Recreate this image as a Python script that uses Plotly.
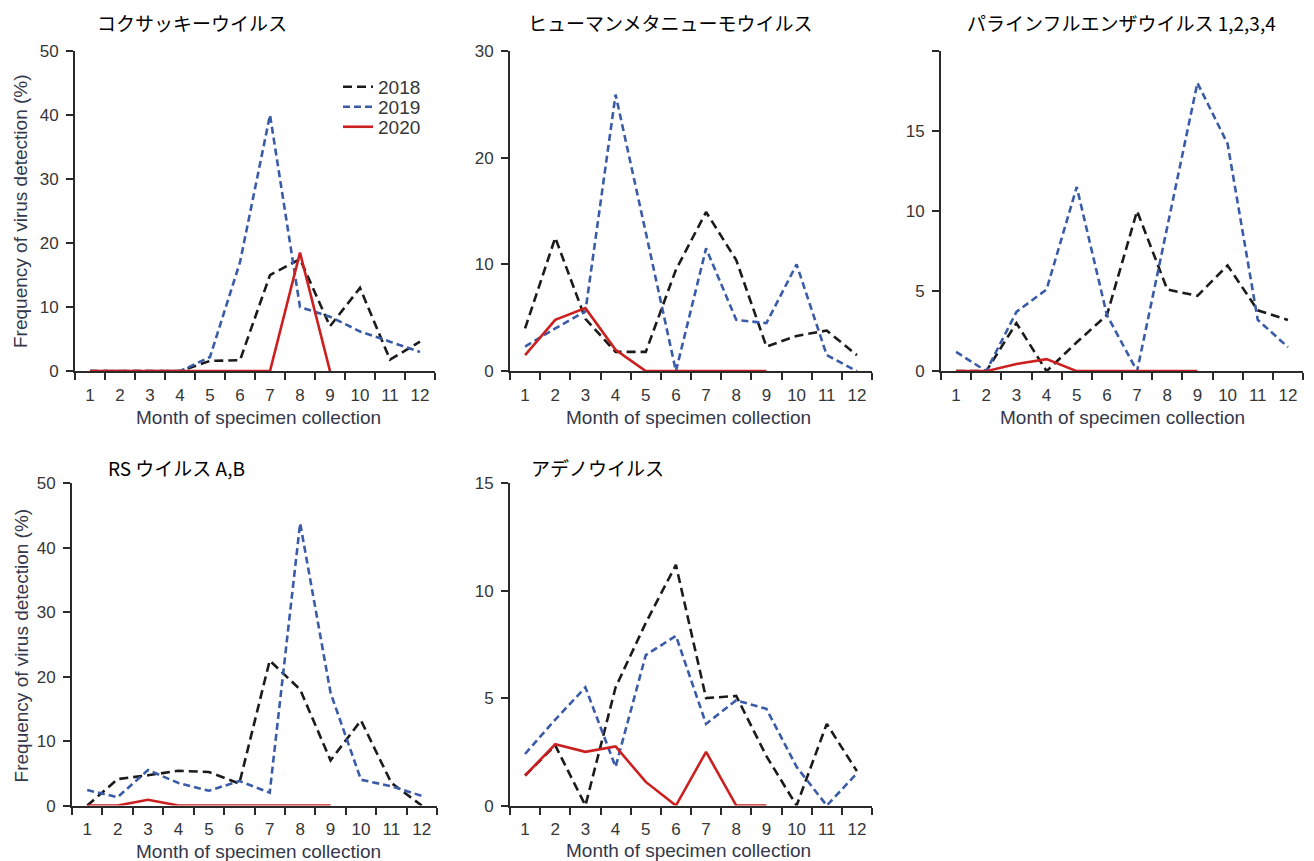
import plotly.graph_objects as go

W, H = 1314, 861

months = [str(m) for m in range(1, 13)]
months_2020 = [str(m) for m in range(1, 10)]
years = ["2018", "2019", "2020"]

titles = [
    "コクサッキーウイルス",
    "ヒューマンメタニューモウイルス",
    "パラインフルエンザウイルス 1,2,3,4",
    "RS ウイルス A,B",
    "アデノウイルス",
]

# Coxsackie virus
cox_2018 = [0, 0, 0, 0, 1.6, 1.7, 15, 17.5, 7, 13, 1.8, 4.6]
cox_2019 = [0, 0, 0, 0, 2.2, 17, 40, 10, 8.5, 6.2, 4.6, 3]
cox_2020 = [0, 0, 0, 0, 0, 0, 0, 18.5, 0]

# Human metapneumovirus
hmpv_2018 = [4, 12.5, 4.9, 1.8, 1.8, 9.5, 14.9, 10.4, 2.3, 3.3, 3.8, 1.5]
hmpv_2019 = [2.3, 4, 5.6, 25.9, 13, 0, 11.5, 4.8, 4.5, 10, 1.5, 0]
hmpv_2020 = [1.5, 4.8, 5.9, 2, 0, 0, 0, 0, 0]

# Parainfluenza virus 1-4
piv_2018 = [0, 0, 3, 0, 1.8, 3.5, 10, 5.1, 4.7, 6.6, 3.8, 3.2]
piv_2019 = [1.2, 0, 3.7, 5.1, 11.5, 3.5, 0, 9, 18, 14.2, 3.2, 1.5]
piv_2020 = [0, 0, 0.45, 0.75, 0, 0, 0, 0, 0]

# RS virus A,B
rsv_2018 = [0, 4.1, 4.7, 5.4, 5.2, 3.4, 22.5, 18, 7, 13.2, 3.5, 0]
rsv_2019 = [2.4, 1.3, 5.5, 3.5, 2.3, 3.8, 2, 43.8, 17.5, 4, 3, 1.5]
rsv_2020 = [0, 0, 0.9, 0, 0, 0, 0, 0, 0]

# Adenovirus
adv_2018 = [1.4, 2.8, 0, 5.5, 8.5, 11.2, 5, 5.1, 2.3, 0, 3.8, 1.6]
adv_2019 = [2.4, 4, 5.5, 1.8, 7, 7.9, 3.8, 4.9, 4.5, 1.8, 0, 1.5]
adv_2020 = [1.4, 2.85, 2.5, 2.75, 1.1, 0, 2.5, 0, 0]

panels_data = [
    (cox_2018, cox_2019, cox_2020),
    (hmpv_2018, hmpv_2019, hmpv_2020),
    (piv_2018, piv_2019, piv_2020),
    (rsv_2018, rsv_2019, rsv_2020),
    (adv_2018, adv_2019, adv_2020),
]

y_ticks = [
    [0, 10, 20, 30, 40, 50],
    [0, 10, 20, 30],
    [0, 5, 10, 15, 20],
    [0, 10, 20, 30, 40, 50],
    [0, 5, 10, 15],
]
y_ticktext = [
    ["0", "10", "20", "30", "40", "50"],
    ["0", "10", "20", "30"],
    ["0", "5", "10", "15", ""],
    ["0", "10", "20", "30", "40", "50"],
    ["0", "5", "10", "15"],
]

x_title = "Month of specimen collection"
y_title = "Frequency of virus detection (%)"


# page placement compensation (target pixel -> layout pixel)
def PX(px):
    return px - 8


def PY(py):
    return (py - 17.2) / 0.977


def fx(px):
    return PX(px) / W


def fy(py):
    return 1 - PY(py) / H


# target pixel boxes of plot areas: (left, right, top, bottom)
boxes = [
    (75, 435, 51, 371),
    (510, 872, 51, 371),
    (941, 1303, 51, 371),
    (72, 437, 483, 805),
    (510, 872, 483, 805),
]
title_pos = [(192, 23), (670, 23), (1121, 23), (176, 467), (597, 467)]
xtitle_pos = [(258, 417), (688, 417), (1122, 417), (258, 851), (688, 850)]
ytitle_pos = [(21, 211), None, None, (21, 645), None]
legend_rows = [87, 107, 127]

colors = {"2018": "#1b1b1b", "2019": "#3a5ca8", "2020": "#cc2020"}
dashes = {"2018": "9px,5px", "2019": "7px,4px", "2020": "solid"}
legend_ids = {"2018": "legend", "2019": "legend2", "2020": "legend3"}

TICK_FONT = dict(family="Liberation Sans, Arial, sans-serif", size=17, color="#363636")
JP_FONT = dict(family="Noto Sans CJK JP, sans-serif", size=19, color="#000000")
TITLE_COLOR = "#34384a"
AX_COLOR = "#2a2a2a"

fig = go.Figure()

for i, (data, box) in enumerate(zip(panels_data, boxes)):
    n = i + 1
    xa = "x" if n == 1 else f"x{n}"
    ya = "y" if n == 1 else f"y{n}"
    for yr, vals in zip(years, data):
        xs = months if yr != "2020" else months_2020
        fig.add_trace(go.Scatter(
            x=xs, y=vals, mode="lines",
            line=dict(color=colors[yr], width=2.6, dash=dashes[yr]),
            name=yr, showlegend=(n == 1), legend=legend_ids[yr],
            xaxis=xa, yaxis=ya, cliponaxis=False,
        ))
    l, r, t, b = box
    xkey = "xaxis" if n == 1 else f"xaxis{n}"
    ykey = "yaxis" if n == 1 else f"yaxis{n}"
    fig.update_layout({
        xkey: dict(
            domain=[fx(l), fx(r)], anchor=ya, type="category",
            categoryorder="array", categoryarray=months,
            range=[-0.5, 11.5], tickson="boundaries", tickangle=0,
            showline=True, linecolor=AX_COLOR, linewidth=2,
            ticks="outside", ticklen=7, tickwidth=2, tickcolor=AX_COLOR,
            showgrid=False, zeroline=False, tickfont=TICK_FONT,
            ticklabelstandoff=7, fixedrange=True,
        ),
        ykey: dict(
            domain=[fy(b), fy(t)], anchor=xa,
            range=[0, y_ticks[i][-1]], tickmode="array",
            tickvals=y_ticks[i], ticktext=y_ticktext[i],
            showline=True, linecolor=AX_COLOR, linewidth=2,
            ticks="outside", ticklen=7, tickwidth=2, tickcolor=AX_COLOR,
            showgrid=False, zeroline=False, tickfont=TICK_FONT,
            ticklabelstandoff=4, fixedrange=True,
        ),
    })

annotations = []
for i in range(5):
    tx, ty = title_pos[i]
    annotations.append(dict(
        text=titles[i], x=fx(tx), y=fy(ty), xref="paper", yref="paper",
        showarrow=False, font=JP_FONT, xanchor="center", yanchor="middle",
    ))
    xx, xy = xtitle_pos[i]
    annotations.append(dict(
        text=x_title, x=fx(xx), y=fy(xy), xref="paper", yref="paper",
        showarrow=False, xanchor="center", yanchor="middle",
        font=dict(family="Liberation Sans, Arial, sans-serif", size=19, color=TITLE_COLOR),
    ))
    if ytitle_pos[i]:
        yx, yy = ytitle_pos[i]
        annotations.append(dict(
            text=y_title, x=fx(yx), y=fy(yy), xref="paper", yref="paper",
            showarrow=False, xanchor="center", yanchor="middle", textangle=-90,
            font=dict(family="Liberation Sans, Arial, sans-serif", size=19, color=TITLE_COLOR),
        ))

LEG_FONT = dict(family="Liberation Sans, Arial, sans-serif", size=19, color="#363636")
legend_layout = {}
for yr, row in zip(years, legend_rows):
    legend_layout[legend_ids[yr]] = dict(
        x=fx(338), y=fy(row), xanchor="left", yanchor="middle",
        bgcolor="rgba(0,0,0,0)", borderwidth=0, font=LEG_FONT,
        itemwidth=30, tracegroupgap=0,
    )

fig.update_layout(
    width=W, height=H,
    margin=dict(l=0, r=0, t=0, b=0),
    paper_bgcolor="white", plot_bgcolor="white",
    annotations=annotations,
    showlegend=True,
    **legend_layout,
)

fig.write_html("out.html")
